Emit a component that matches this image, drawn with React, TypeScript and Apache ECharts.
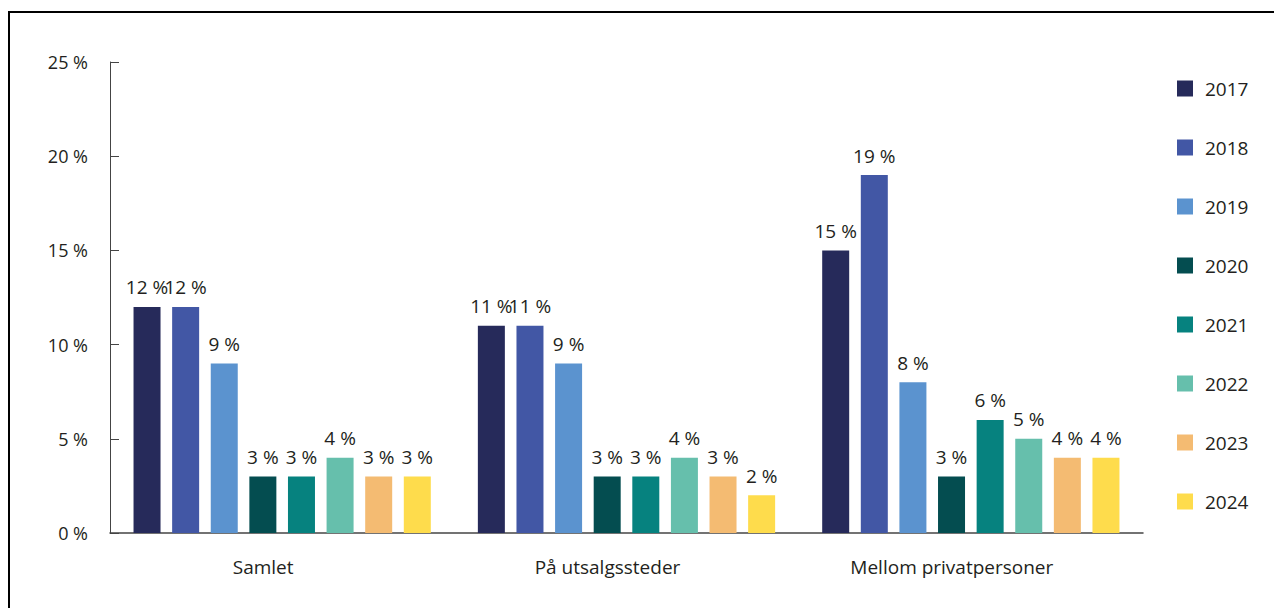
import React, { useEffect, useRef } from "react";
import * as echarts from "echarts";

const categories = ["Samlet", "På utsalgssteder", "Mellom privatpersoner"];
const years = ["2017", "2018", "2019", "2020", "2021", "2022", "2023", "2024"];
const colors = ["#262a5a", "#4257a5", "#5b93cf", "#044d50", "#06827f", "#66bfac", "#f4bb72", "#fedc4c"];
const values2017 = [12, 11, 15];
const values2018 = [12, 11, 19];
const values2019 = [9, 9, 8];
const values2020 = [3, 3, 3];
const values2021 = [3, 3, 6];
const values2022 = [4, 4, 5];
const values2023 = [3, 3, 4];
const values2024 = [3, 2, 4];
const seriesValues = [values2017, values2018, values2019, values2020, values2021, values2022, values2023, values2024];

const FONT = "'Open Sans', sans-serif";
const TXT = "#231f20";

export default function App() {
  const ref = useRef<HTMLDivElement>(null);
  useEffect(() => {
    if (!ref.current) return;
    const chart = echarts.init(ref.current, undefined, { renderer: "svg" });
    chart.setOption({
      animation: false,
      textStyle: { fontFamily: FONT, color: TXT },
      grid: { left: 102, top: 54, width: 1033, height: 471, containLabel: false },
      legend: {
        orient: "vertical",
        left: 1164,
        top: 66,
        itemWidth: 16,
        itemHeight: 16,
        itemGap: 40,
        icon: "rect",
        textStyle: { fontFamily: FONT, fontSize: 19, color: TXT, padding: [0, 0, 0, 7] },
        data: years,
      },
      xAxis: {
        type: "category",
        data: categories,
        axisLine: { lineStyle: { color: "#444", width: 1.5 } },
        axisTick: { inside: true, length: 7, lineStyle: { color: "#444" } },
        axisLabel: { fontFamily: FONT, fontSize: 19, color: TXT, margin: 24, padding: [0, 38, 0, 0] },
      },
      yAxis: {
        type: "value",
        min: 0,
        max: 25,
        interval: 5,
        splitLine: { show: false },
        axisLine: { show: true, lineStyle: { color: "#444", width: 1 } },
        axisTick: { show: true, inside: true, length: 9, lineStyle: { color: "#444" } },
        axisLabel: { fontFamily: FONT, fontSize: 18, color: TXT, margin: 22, formatter: "{value} %" },
      },
      series: years.map((y, i) => ({
        name: y,
        type: "bar",
        data: seriesValues[i],
        barWidth: 27,
        barGap: "43%",
        itemStyle: { color: colors[i] },
        label: {
          show: true,
          position: "top",
          distance: 10,
          formatter: "{c} %",
          fontFamily: FONT,
          fontSize: 19,
          color: TXT,
        },
      })),
    });
    return () => chart.dispose();
  }, []);
  return (
    <div style={{ position: "relative", width: 1274, height: 600 }}>
      <div
        style={{
          position: "absolute",
          top: 3,
          left: 0,
          width: 1290,
          height: 620,
          borderTop: "2px solid #000",
          borderLeft: "2px solid #000",
          boxSizing: "border-box",
        }}
      />
      <div ref={ref} style={{ position: "absolute", top: 0, left: 0, width: 1274, height: 600 }} />
    </div>
  );
}
